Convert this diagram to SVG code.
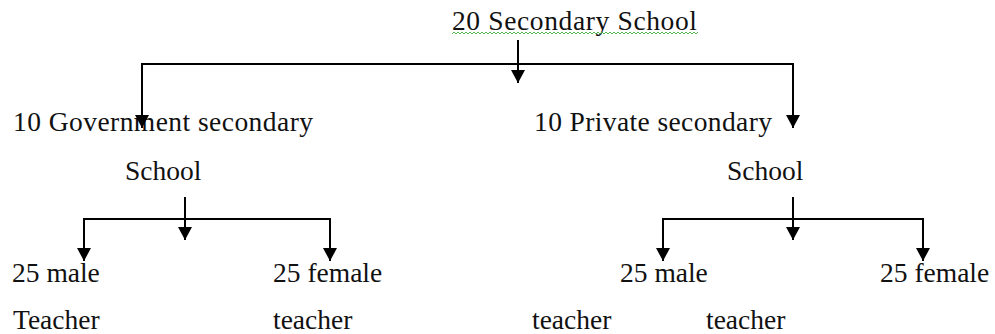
<svg xmlns="http://www.w3.org/2000/svg" width="995" height="334" viewBox="0 0 995 334">
<style>
.t text{font-family:'Liberation Serif','Times New Roman','DejaVu Serif',serif;font-size:27.5px;fill:#111}
.c line,.c polyline{stroke:#000;stroke-width:2;fill:none}
</style>
<defs>
<marker id="ah" markerUnits="userSpaceOnUse" markerWidth="14" markerHeight="14" viewBox="0 0 14 14" refX="13" refY="7" orient="auto">
<path d="M0,0 L13,7 L0,14 Z" fill="#000"/>
</marker>
<pattern id="wave" patternUnits="userSpaceOnUse" x="452" y="31" width="4" height="4">
<path d="M0,3 L2,1 L4,3" stroke="#3fae3f" stroke-width="0.9" fill="none"/>
</pattern>
</defs>
<rect width="995" height="334" fill="#fff"/>
<g class="t" font-family="Liberation Serif, serif" font-size="27.5">
<g id="root"><text x="452" y="30" textLength="245" lengthAdjust="spacing">20 Secondary School</text><rect x="452" y="31" width="246" height="4" fill="url(#wave)"/></g>
<g id="gov"><text x="13" y="131" textLength="300" lengthAdjust="spacing">10 Government secondary</text><text x="125" y="180">School</text></g>
<g id="priv"><text x="534" y="131" textLength="238" lengthAdjust="spacing">10 Private secondary</text><text x="727" y="180">School</text></g>
<g id="gm"><text x="12" y="282">25 male</text><text x="13" y="329">Teacher</text></g>
<g id="gf"><text x="273" y="282">25 female</text><text x="273" y="329">teacher</text></g>
<g id="pm"><text x="620" y="282">25 male</text><text x="532" y="329">teacher</text></g>
<g id="pf"><text x="880" y="282">25 female</text><text x="706" y="329">teacher</text></g>
</g>
<g class="c" id="connectors">
<line x1="518" y1="40" x2="518" y2="83" marker-end="url(#ah)"/>
<polyline points="142,128 142,64 793,64 793,128" marker-end="url(#ah)"/>
<line x1="142" y1="66" x2="142" y2="128" marker-end="url(#ah)"/>
<line x1="185" y1="197" x2="185" y2="240" marker-end="url(#ah)"/>
<polyline points="84,261 84,219 330,219 330,261" marker-end="url(#ah)"/>
<line x1="84" y1="221" x2="84" y2="261" marker-end="url(#ah)"/>
<line x1="793" y1="197" x2="793" y2="240" marker-end="url(#ah)"/>
<polyline points="663,261 663,219 923,219 923,261" marker-end="url(#ah)"/>
<line x1="663" y1="221" x2="663" y2="261" marker-end="url(#ah)"/>
</g>
</svg>
